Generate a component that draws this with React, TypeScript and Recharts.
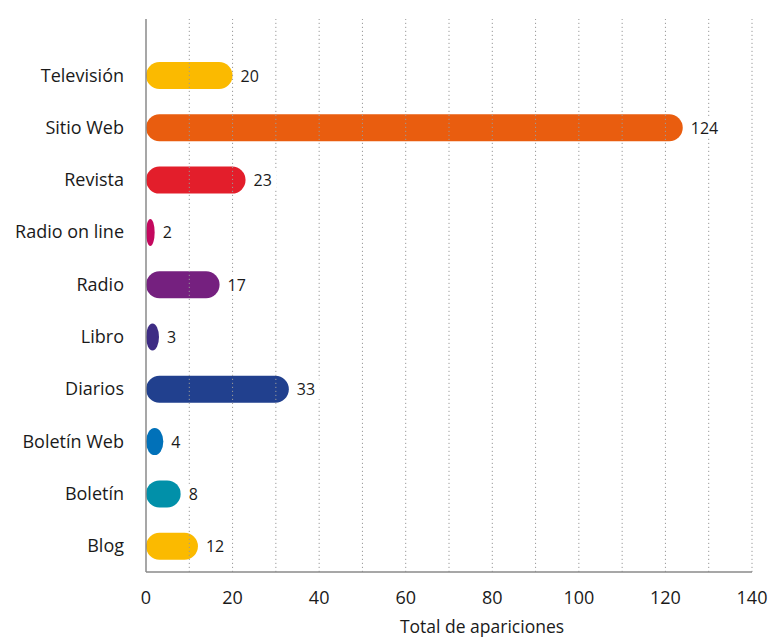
import React from 'react';
import { BarChart, Bar, XAxis, YAxis, ReferenceLine, LabelList, Cell, Label } from 'recharts';

const categories = ['Televisión', 'Sitio Web', 'Revista', 'Radio on line', 'Radio', 'Libro', 'Diarios', 'Boletín Web', 'Boletín', 'Blog'];
const totals = [20, 124, 23, 2, 17, 3, 33, 4, 8, 12];
const barColors = ['#FBBA00', '#E95D0F', '#E31E2B', '#C4085E', '#75207F', '#3E2C84', '#21408E', '#0171B9', '#0190A9', '#FBBA00'];
const xTicks = [0, 20, 40, 60, 80, 100, 120, 140];
const gridValues = [10, 20, 30, 40, 50, 60, 70, 80, 90, 100, 110, 120, 130, 140];

const data = categories.map((name, i) => ({ name, total: totals[i] }));

const FONT = '"Open Sans", sans-serif';

// pill shape: svg clamps rx to width/2 so tiny bars become ellipses
const PillBar = (props: any) => {
    const { x, y, width, height, fill } = props;
    if (!width || width <= 0) return null;
    return <rect x={x} y={y} width={width} height={height} rx={height / 2} ry={height / 2} fill={fill} />;
};

const ValueLabel = (props: any) => {
    const { x, y, width, height, value } = props;
    const tx = x + width + 8;
    const ty = y + height / 2;
    const w = String(value).length * 10 + 6;
    return (
        <g>
            <rect x={tx - 3} y={ty - 10} width={w} height={20} fill="#fff" />
            <text x={tx} y={ty} dy={6} fontFamily={FONT} fontSize={16} fill="#1a1a1a">{value}</text>
        </g>
    );
};

export default function App() {
    return (
        <div style={{ position: 'absolute', left: 0, top: 0, background: '#fff' }}>
            <BarChart
                width={773}
                height={638}
                data={data}
                layout="vertical"
                margin={{ top: 19, right: 21, bottom: 0, left: 0 }}
            >
                <XAxis
                    type="number"
                    domain={[0, 140]}
                    ticks={xTicks}
                    tickLine={false}
                    axisLine={{ stroke: '#8a8a8a', strokeWidth: 1.5 }}
                    tick={{ fill: '#1a1a1a', fontSize: 18, fontFamily: FONT }}
                    tickMargin={13}
                    height={66}
                >
                    <Label value="Total de apariciones" position="insideBottom" dx={33} offset={5} fill="#1a1a1a" fontSize={17.5} fontFamily={FONT} />
                </XAxis>
                <YAxis
                    type="category"
                    dataKey="name"
                    width={146}
                    padding={{ top: 30, bottom: 0 }}
                    tickLine={false}
                    axisLine={{ stroke: '#8a8a8a', strokeWidth: 1.5 }}
                    tick={{ fill: '#1a1a1a', fontSize: 18, fontFamily: FONT }}
                    tickMargin={16}
                    interval={0}
                />
                {gridValues.map((v) => (
                    <ReferenceLine key={v} x={v} stroke="#9a9a9a" strokeWidth={1} strokeDasharray="1.2 2.8" />
                ))}
                <Bar dataKey="total" barSize={27} shape={<PillBar />} isAnimationActive={false}>
                    {data.map((d, i) => (
                        <Cell key={d.name} fill={barColors[i]} />
                    ))}
                    <LabelList dataKey="total" content={<ValueLabel />} />
                </Bar>
            </BarChart>
        </div>
    );
}
